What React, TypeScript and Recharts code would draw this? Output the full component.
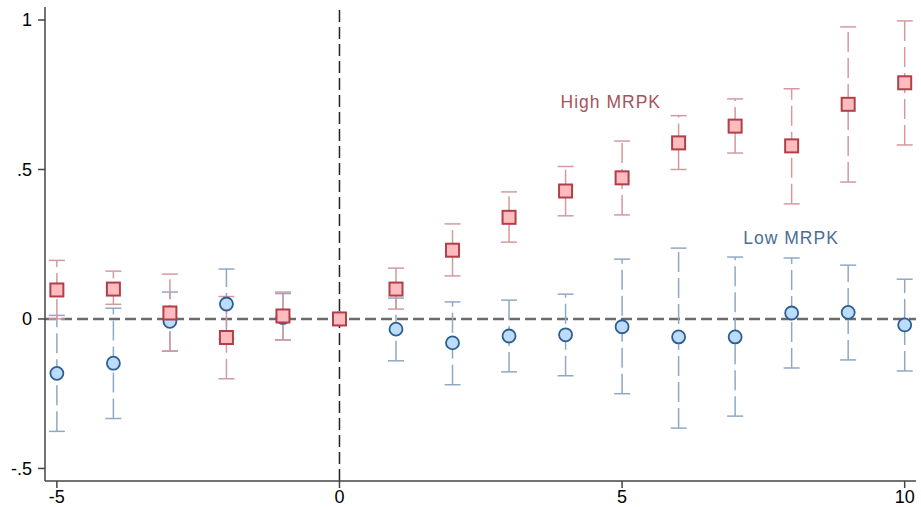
import React from "react";
import {
  ComposedChart,
  ErrorBar,
  ReferenceDot,
  ReferenceLine,
  Scatter,
  XAxis,
  YAxis,
} from "recharts";

// event time (years relative to shock)
const periods = [-5, -4, -3, -2, -1, 0, 1, 2, 3, 4, 5, 6, 7, 8, 9, 10];

const highCoef = [0.097, 0.1, 0.02, -0.062, 0.01, 0, 0.1, 0.23, 0.34, 0.428, 0.472, 0.589, 0.645, 0.579, 0.718, 0.79];
const highLo = [0.0, 0.049, -0.108, -0.2, -0.07, 0, 0.033, 0.144, 0.257, 0.345, 0.348, 0.5, 0.555, 0.385, 0.458, 0.582];
const highHi = [0.196, 0.16, 0.15, 0.075, 0.09, 0, 0.17, 0.318, 0.425, 0.51, 0.595, 0.68, 0.736, 0.77, 0.977, 0.997];

const lowCoef = [-0.182, -0.148, -0.008, 0.05, 0.005, 0, -0.034, -0.08, -0.057, -0.053, -0.026, -0.06, -0.06, 0.02, 0.022, -0.02];
const lowLo = [-0.376, -0.333, -0.107, -0.067, -0.07, 0, -0.14, -0.22, -0.177, -0.19, -0.25, -0.365, -0.325, -0.164, -0.137, -0.174];
const lowHi = [0.012, 0.036, 0.09, 0.167, 0.085, 0, 0.07, 0.057, 0.063, 0.083, 0.2, 0.237, 0.207, 0.204, 0.18, 0.133];

const xTicks = [-5, 0, 5, 10];
const yTicks = [-0.5, 0, 0.5, 1];

const build = (coef: number[], lo: number[], hi: number[]) =>
  periods.map((p, i) => ({
    t: p,
    b: coef[i],
    err: p === 0 ? null : [coef[i] - lo[i], hi[i] - coef[i]],
  }));

const highData = build(highCoef, highLo, highHi);
const lowData = build(lowCoef, lowLo, lowHi);

const fmtY = (v: number) => {
  if (v === 0) return "0";
  if (v === 1) return "1";
  return String(v).replace("0.", ".");
};

const Square = (props: any) => {
  const { cx, cy } = props;
  return (
    <rect x={cx - 6.5} y={cy - 6.5} width={13} height={13} fill="#ffbcbf" stroke="#b03f4a" strokeWidth={2} />
  );
};

const Circle = (props: any) => {
  const { cx, cy } = props;
  return <circle cx={cx} cy={cy} r={6.5} fill="#bcdcfb" stroke="#2f5f8f" strokeWidth={1.8} />;
};

const font = "Liberation Sans, Arial, sans-serif";
const tickStyle = { fill: "#000", fontSize: 18, fontFamily: font };

export default function App() {
  return (
    <div style={{ position: "absolute", left: 0, top: 0 }}>
      <ComposedChart width={921} height={507} margin={{ top: 7, right: 5, left: 0, bottom: 0 }}>
        <XAxis
          type="number"
          dataKey="t"
          domain={[-5.21, 10.2]}
          ticks={xTicks}
          allowDataOverflow
          tick={tickStyle}
          tickSize={7}
          tickMargin={2}
          height={26}
          stroke="#444"
          strokeWidth={1.5}
        />
        <YAxis
          type="number"
          dataKey="b"
          domain={[-0.542, 1.0435]}
          ticks={yTicks}
          allowDataOverflow
          tickFormatter={fmtY}
          tick={tickStyle}
          tickSize={7}
          tickMargin={6}
          width={45}
          stroke="#444"
          strokeWidth={1.5}
        />
        <ReferenceLine y={0} stroke="#6b6b6b" strokeWidth={2.5} strokeDasharray="11 5" />
        <Scatter data={lowData} shape={Circle} isAnimationActive={false}>
          <ErrorBar dataKey="err" direction="y" width={8} stroke="#8fa9c4" strokeWidth={1.5} strokeDasharray="20 6" />
        </Scatter>
        <Scatter data={highData} shape={Square} isAnimationActive={false}>
          <ErrorBar dataKey="err" direction="y" width={8} stroke="#d49aa1" strokeWidth={1.5} strokeDasharray="20 6" />
        </Scatter>
        <ReferenceLine x={0} stroke="#222" strokeWidth={1.5} strokeDasharray="12 5" />
        <ReferenceDot
          x={4.8}
          y={0.7255}
          r={0.1}
          fill="none"
          stroke="none"
          label={{ value: "High MRPK", position: "center", fill: "#a6535c", fontSize: 17.5, letterSpacing: 1, fontFamily: font }}
        />
        <ReferenceDot
          x={7.99}
          y={0.272}
          r={0.1}
          fill="none"
          stroke="none"
          label={{ value: "Low MRPK", position: "center", fill: "#4a6e93", fontSize: 17.5, letterSpacing: 1, fontFamily: font }}
        />
      </ComposedChart>
    </div>
  );
}
